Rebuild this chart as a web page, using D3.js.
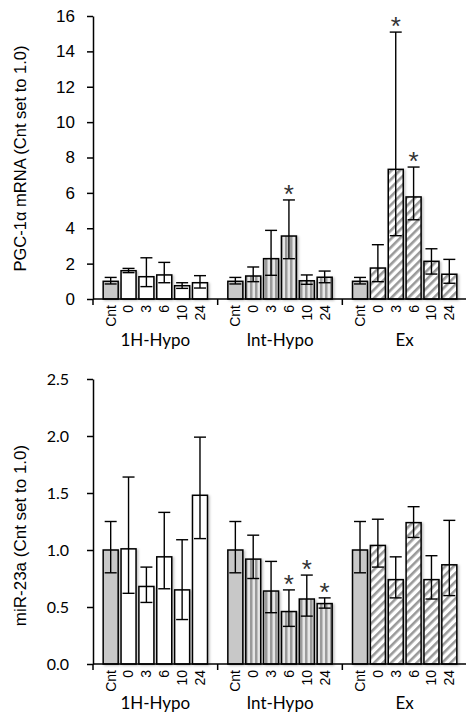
<!DOCTYPE html>
<html>
<head>
<meta charset="utf-8">
<script src="https://cdn.jsdelivr.net/npm/d3@7"></script>
<style>
  body { margin: 0; background: #fff; }
  svg { display: block; }
</style>
</head>
<body>
<div id="chart"></div>
<script>
// groups and time points
const groups = ["1H-Hypo", "Int-Hypo", "Ex"];
const times = ["Cnt", "0", "3", "6", "10", "24"];

// PGC-1a mRNA (top panel), 18 bars in group order
const pgcMean  = [1.0, 1.6, 1.26, 1.36, 0.75, 0.92,   1.0, 1.3, 2.28, 3.56, 1.03, 1.23,   1.0, 1.75, 7.33, 5.77, 2.13, 1.4];
const pgcUpper = [1.22, 1.73, 2.33, 2.07, 0.92, 1.32, 1.22, 1.81, 3.88, 5.6, 1.36, 1.58, 1.22, 3.07, 15.09, 7.46, 2.84, 2.24];
const pgcLower = [0.85, 1.49, 0.7, 0.92, 0.6, 0.62,   0.85, 0.98, 1.34, 2.28, 0.83, 0.92, 0.85, 0.98, 3.58, 4.48, 1.41, 0.89];
const pgcStar  = [0, 0, 0, 0, 0, 0,  0, 0, 0, 1, 0, 0,  0, 0, 1, 1, 0, 0];
const pgcTicks = [0, 2, 4, 6, 8, 10, 12, 14, 16];

// miR-23a (bottom panel)
const mirMean  = [1.0, 1.01, 0.68, 0.94, 0.65, 1.48,  1.0, 0.92, 0.64, 0.46, 0.57, 0.53,  1.0, 1.04, 0.74, 1.24, 0.74, 0.87];
const mirUpper = [1.25, 1.64, 0.85, 1.33, 1.09, 1.99, 1.25, 1.13, 0.9, 0.65, 0.78, 0.58, 1.25, 1.27, 0.94, 1.38, 0.95, 1.26];
const mirLower = [0.8, 0.62, 0.54, 0.66, 0.39, 1.1,   0.8, 0.75, 0.45, 0.33, 0.42, 0.49, 0.8, 0.85, 0.58, 1.11, 0.57, 0.6];
const mirStar  = [0, 0, 0, 0, 0, 0,  0, 0, 0, 1, 1, 1,  0, 0, 0, 0, 0, 0];
const mirTicks = [0, 0.5, 1.0, 1.5, 2.0, 2.5];

const W = 466, H = 717;
const svg = d3.select("#chart").append("svg")
  .attr("width", W)
  .attr("height", H);

const arial = "'Liberation Sans', Arial, sans-serif";
const calibri = "Lato, 'Open Sans', sans-serif";

// patterns and shadow
const defs = svg.append("defs");

const vstripe = defs.append("pattern")
  .attr("id", "vstripe")
  .attr("patternUnits", "userSpaceOnUse")
  .attr("width", 5)
  .attr("height", 5);
vstripe.append("rect").attr("width", 5).attr("height", 5).attr("fill", "#e6e6e6");
vstripe.append("rect").attr("x", 0).attr("width", 2.5).attr("height", 5).attr("fill", "#9a9a9a");

const diag = defs.append("pattern")
  .attr("id", "diag")
  .attr("patternUnits", "userSpaceOnUse")
  .attr("width", 6)
  .attr("height", 6)
  .attr("patternTransform", "rotate(45)");
diag.append("rect").attr("width", 6).attr("height", 6).attr("fill", "#fff");
diag.append("rect").attr("width", 2.6).attr("height", 6).attr("fill", "#9a9a9a");

const shadow = defs.append("filter")
  .attr("id", "shadow")
  .attr("x", "-20%").attr("y", "-20%")
  .attr("width", "160%").attr("height", "160%");
shadow.append("feDropShadow")
  .attr("dx", 1.5).attr("dy", 1)
  .attr("stdDeviation", 1)
  .attr("flood-color", "#000")
  .attr("flood-opacity", 0.25);

function barFill(gi, ti) {
  if (ti === 0) return "#c8c8c8";
  if (gi === 0) return "#fff";
  if (gi === 1) return "url(#vstripe)";
  return "url(#diag)";
}

function drawPanel(opt) {
  const left = 93, right = 467;
  const g = svg.append("g");

  const y = d3.scaleLinear()
    .domain([0, opt.ticks[opt.ticks.length - 1]])
    .range([opt.bottom, opt.top]);

  const x0 = d3.scaleBand()
    .domain(groups)
    .range([left, right])
    .padding(0);

  const x1 = d3.scaleBand()
    .domain(times)
    .range([0, x0.bandwidth()])
    .paddingInner(0.16)
    .paddingOuter(0.57);

  // y axis
  const yAxis = g.append("g")
    .attr("transform", `translate(${left},0)`)
    .call(d3.axisLeft(y).tickValues(opt.ticks).tickFormat(opt.fmt).tickSize(6).tickPadding(opt.tickPad).tickSizeOuter(0));
  yAxis.select(".domain").attr("stroke", "#000").attr("stroke-width", 1.5);
  yAxis.selectAll(".tick line").attr("stroke", "#000").attr("stroke-width", 1.5);
  yAxis.selectAll(".tick text")
    .attr("fill", "#000")
    .style("font-family", opt.tickFont)
    .style("font-size", opt.tickSize + "px");

  // y label
  g.append("text")
    .attr("transform", `translate(${opt.labelX},${(opt.top + opt.bottom) / 2 + opt.labelShift}) rotate(-90)`)
    .attr("text-anchor", "middle")
    .attr("dy", "0.35em")
    .style("font-family", arial)
    .style("font-size", opt.labelSize + "px")
    .text(opt.label);

  // rows of data
  const rows = [];
  groups.forEach((gr, gi) => {
    times.forEach((t, ti) => {
      const k = gi * times.length + ti;
      rows.push({ group: gr, gi, time: t, ti, mean: opt.mean[k], hi: opt.upper[k], lo: opt.lower[k], star: opt.star[k] });
    });
  });

  const cx = d => x0(d.group) + x1(d.time) + x1.bandwidth() / 2;

  // bars
  g.append("g").selectAll("rect")
    .data(rows)
    .join("rect")
    .attr("x", d => x0(d.group) + x1(d.time))
    .attr("y", d => y(d.mean))
    .attr("width", x1.bandwidth())
    .attr("height", d => y(0) - y(d.mean))
    .attr("fill", d => barFill(d.gi, d.ti))
    .attr("stroke", "#000")
    .attr("stroke-width", 1.5)
    .attr("filter", "url(#shadow)");

  // error bars
  const eb = g.append("g").attr("stroke", "#000").attr("stroke-width", 1.4);
  eb.selectAll("line.v")
    .data(rows)
    .join("line")
    .attr("class", "v")
    .attr("x1", cx).attr("x2", cx)
    .attr("y1", d => y(d.hi)).attr("y2", d => y(d.lo));
  eb.selectAll("line.hi")
    .data(rows)
    .join("line")
    .attr("class", "hi")
    .attr("x1", d => cx(d) - 6).attr("x2", d => cx(d) + 6)
    .attr("y1", d => y(d.hi)).attr("y2", d => y(d.hi));
  eb.selectAll("line.lo")
    .data(rows)
    .join("line")
    .attr("class", "lo")
    .attr("x1", d => cx(d) - 6).attr("x2", d => cx(d) + 6)
    .attr("y1", d => y(d.lo)).attr("y2", d => y(d.lo));

  // significance stars
  g.append("g").selectAll("text")
    .data(rows.filter(d => d.star))
    .join("text")
    .attr("x", cx)
    .attr("y", d => y(d.hi) + 3)
    .attr("text-anchor", "middle")
    .attr("fill", "#333")
    .style("font-family", arial)
    .style("font-size", "26px")
    .text("*");

  // x axis line and group ticks
  g.append("line")
    .attr("x1", left).attr("x2", right)
    .attr("y1", y(0)).attr("y2", y(0))
    .attr("stroke", "#000").attr("stroke-width", 1.5);
  g.append("g").selectAll("line")
    .data(groups)
    .join("line")
    .attr("x1", d => x0(d)).attr("x2", d => x0(d))
    .attr("y1", y(0)).attr("y2", y(0) + 6)
    .attr("stroke", "#000").attr("stroke-width", 1.5);

  // time labels (rotated)
  g.append("g").selectAll("text")
    .data(rows)
    .join("text")
    .attr("transform", d => `translate(${cx(d)},${y(0) + 6}) rotate(-90)`)
    .attr("text-anchor", "end")
    .attr("dy", "0.35em")
    .style("font-family", arial)
    .style("font-size", "14px")
    .text(d => d.time);

  // group labels
  g.append("g").selectAll("text")
    .data(groups)
    .join("text")
    .attr("x", d => x0(d) + x0.bandwidth() / 2)
    .attr("y", opt.groupY)
    .attr("text-anchor", "middle")
    .style("font-family", calibri)
    .style("font-size", "17px")
    .text(d => d);
}

drawPanel({
  top: 16, bottom: 299,
  ticks: pgcTicks, fmt: d3.format("d"),
  mean: pgcMean, upper: pgcUpper, lower: pgcLower, star: pgcStar,
  tickFont: arial, tickSize: 17, tickPad: 12,
  label: "PGC-1α mRNA (Cnt set to 1.0)", labelX: 20, labelSize: 16.5, labelShift: 1,
  groupY: 346
});

drawPanel({
  top: 379, bottom: 664,
  ticks: mirTicks, fmt: d3.format(".1f"),
  mean: mirMean, upper: mirUpper, lower: mirLower, star: mirStar,
  tickFont: calibri, tickSize: 16, tickPad: 18,
  label: "miR-23a (Cnt set to 1.0)", labelX: 20, labelSize: 17, labelShift: 14,
  groupY: 709
});
</script>
</body>
</html>
